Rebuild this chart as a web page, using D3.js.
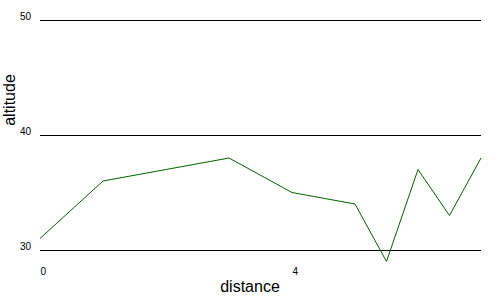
<!DOCTYPE html>
<html>
<head>
<meta charset="utf-8">
<script src="https://cdn.jsdelivr.net/npm/d3@7"></script>
<style>
  body { margin: 0; background: #fff; }
  svg { display: block; font-family: Arial, "Liberation Sans", sans-serif; }
</style>
</head>
<body>
<div id="chart"></div>
<script>
var distance = [0, 1, 3, 4, 5, 5.5, 6, 6.5, 7];
var altitude = [31, 36, 38, 35, 34, 29, 37, 33, 38];
var xTicks = [0, 4];
var yTicks = [30, 40, 50];

var width = 500,
    height = 300;

var x = d3.scaleLinear()
    .domain([0, 7])
    .range([40, 481]);

var y = d3.scaleLinear()
    .domain([30, 50])
    .range([250, 20]);

var svg = d3.select("#chart").append("svg")
    .attr("width", width)
    .attr("height", height);

// horizontal grid lines + labels
var yAxis = svg.append("g")
    .attr("transform", "translate(40,0)")
    .call(d3.axisLeft(y)
      .tickValues(yTicks)
      .tickSize(-(481 - 40))
      .tickPadding(9)
      .tickFormat(d3.format("d")));
yAxis.select(".domain").remove();
yAxis.selectAll("line")
    .attr("stroke", "#000")
    .attr("shape-rendering", "crispEdges");
yAxis.selectAll("text")
    .attr("dy", "-0.05em")
    .style("font-size", "10px")
    .attr("fill", "#000");

var xAxis = svg.append("g")
    .attr("transform", "translate(0,250)")
    .call(d3.axisBottom(x)
      .tickValues(xTicks)
      .tickSize(0)
      .tickPadding(0)
      .tickFormat(d3.format("d")));
xAxis.select(".domain").remove();
xAxis.selectAll("text")
    .attr("text-anchor", "start")
    .attr("y", 25)
    .attr("dy", 0)
    .style("font-size", "10px")
    .attr("fill", "#000");

var line = d3.line()
    .x(function(d, i) { return x(distance[i]); })
    .y(function(d) { return y(d); });

svg.append("path")
    .datum(altitude)
    .attr("d", line)
    .attr("fill", "none")
    .attr("stroke", "#006400")
    .attr("stroke-width", 1);

svg.append("text")
    .attr("x", 250)
    .attr("y", 292)
    .attr("text-anchor", "middle")
    .style("font-size", "16px")
    .text("distance");

svg.append("text")
    .attr("transform", "translate(15,100) rotate(-90)")
    .attr("text-anchor", "middle")
    .style("font-size", "16px")
    .text("altitude");
</script>
</body>
</html>
